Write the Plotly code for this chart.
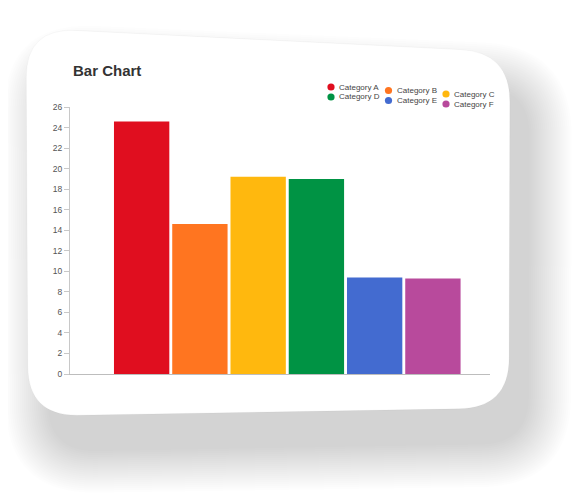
import plotly.graph_objects as go

categories = ["Category A", "Category B", "Category C", "Category D", "Category E", "Category F"]
values = [24.6, 14.6, 19.2, 19.0, 9.4, 9.3]
colors = ["#E00E1F", "#FF7520", "#FFB80E", "#009344", "#436BD0", "#B84A9C"]
y_ticks = list(range(0, 27, 2))

OFF = 8  # default page body margin
W, H = 588 - OFF, 495 - OFF
ML, MR, MT, MB = 70 - OFF, 98, 107 - OFF, 121
PW, PH = W - ML - MR, H - MT - MB


def px(x):
    return (x - OFF - ML) / PW


def py(y):
    return (H - MB - (y - OFF)) / PH


def rounded_quad(corners, r, dx=0.0, dy=0.0, e=0.0):
    cx = sum(c[0] for c in corners) / 4
    cy = sum(c[1] for c in corners) / 4
    pts = []
    for (x, y) in corners:
        sx = 1 if x > cx else -1
        sy = 1 if y > cy else -1
        pts.append((x + dx + sx * e, y + dy + sy * e))
    n = len(pts)
    segs = []
    for i in range(n):
        p0 = pts[i - 1]
        p1 = pts[i]
        p2 = pts[(i + 1) % n]

        def towards(a, b, d):
            vx, vy = b[0] - a[0], b[1] - a[1]
            L = (vx * vx + vy * vy) ** 0.5
            return (a[0] + vx / L * d, a[1] + vy / L * d)
        a = towards(p1, p0, r + e)
        b = towards(p1, p2, r + e)
        segs.append((a, p1, b))
    path = ""
    for i, (a, c, b) in enumerate(segs):
        cmd = "M" if i == 0 else "L"
        path += f"{cmd}{px(a[0]):.5f},{py(a[1]):.5f} Q{px(c[0]):.5f},{py(c[1]):.5f} {px(b[0]):.5f},{py(b[1]):.5f} "
    path += "Z"
    return path


card = [(26, 28), (510, 52), (509, 408), (28, 416)]

shapes = []
# soft shadow
for i in range(22):
    e = i * 2.0
    shapes.append(dict(type="path", xref="paper", yref="paper", layer="below",
                       path=rounded_quad(card, 48, dx=20, dy=36, e=e),
                       fillcolor="rgba(0,0,0,0.0088)", line=dict(width=0)))
# card
shapes.append(dict(type="path", xref="paper", yref="paper", layer="below",
                   path=rounded_quad(card, 50),
                   fillcolor="white", line=dict(color="rgba(0,0,0,0.03)", width=1)))

fig = go.Figure()
for cat, val, col in zip(categories, values, colors):
    fig.add_trace(go.Bar(x=[cat], y=[val], name=cat, marker=dict(color=col, line=dict(width=0)),
                         width=0.95, showlegend=False))

annotations = [dict(text="<b>Bar Chart</b>", xref="paper", yref="paper", x=px(71), y=py(70),
                    xanchor="left", yanchor="middle", showarrow=False,
                    font=dict(family="Liberation Sans, Arial", size=15, color="#333333"))]

# manual legend (3 columns x 2 rows)
for i, (cat, col) in enumerate(zip(categories, colors)):
    c, r = i % 3, i // 3
    mx = 331 + 57.5 * c
    my = 87 + 10 * r + 3.5 * c
    shapes.append(dict(type="circle", xref="paper", yref="paper",
                       x0=px(mx - 3.6), x1=px(mx + 3.6), y0=py(my - 3.6), y1=py(my + 3.6),
                       fillcolor=col, line=dict(width=0)))
    annotations.append(dict(text=cat, xref="paper", yref="paper", x=px(mx + 6), y=py(my),
                            xanchor="left", yanchor="middle", showarrow=False,
                            font=dict(family="Liberation Sans, Arial", size=8, color="#444444")))

fig.update_layout(
    width=W, height=H,
    margin=dict(l=ML, r=MR, t=MT, b=MB, pad=0),
    paper_bgcolor="white", plot_bgcolor="rgba(0,0,0,0)",
    barmode="overlay",
    showlegend=False,
    shapes=shapes, annotations=annotations,
    font=dict(family="Liberation Sans, Arial", color="#444444"),
    xaxis=dict(type="category", categoryorder="array", categoryarray=categories,
               range=[-1.23, 5.98], showticklabels=False, ticks="", showgrid=False,
               showline=True, linecolor="#bdbdbd", linewidth=1, zeroline=False, fixedrange=True),
    yaxis=dict(range=[0, 26], tickvals=y_ticks, showgrid=False, zeroline=False,
               showline=True, linecolor="#c8c8c8", linewidth=1,
               ticks="outside", ticklen=5, tickcolor="#c8c8c8",
               tickfont=dict(size=8.5, color="#555555"), fixedrange=True),
)

fig.write_html("out.html")
